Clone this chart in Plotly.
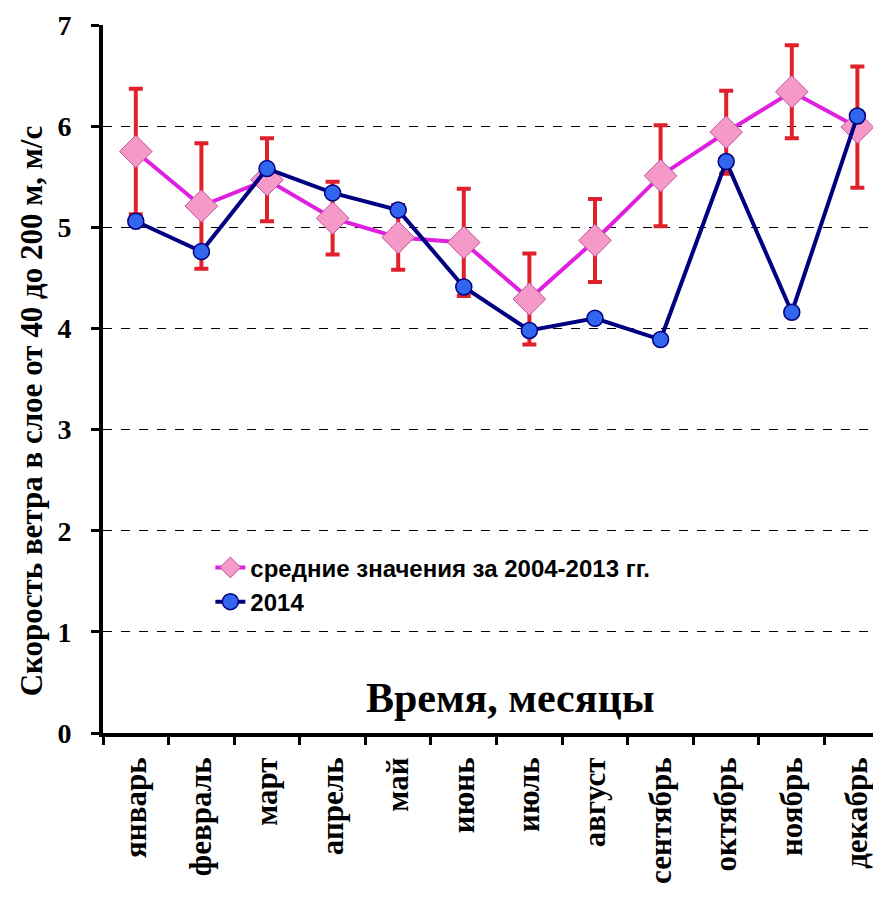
import plotly.graph_objects as go

months = ["январь", "февраль", "март", "апрель", "май", "июнь", "июль",
          "август", "сентябрь", "октябрь", "ноябрь", "декабрь"]
mean_vals = [5.75, 5.21, 5.47, 5.09, 4.90, 4.85, 4.29, 4.87, 5.51, 5.94, 6.34, 5.99]
mean_err = [0.62, 0.62, 0.41, 0.36, 0.32, 0.53, 0.45, 0.41, 0.50, 0.41, 0.46, 0.60]
vals_2014 = [5.06, 4.76, 5.58, 5.34, 5.17, 4.41, 3.98, 4.10, 3.89, 5.65, 4.16, 6.10]
y_ticks = [0, 1, 2, 3, 4, 5, 6, 7]

serif = "Liberation Serif"
sans = "Liberation Sans"

fig = go.Figure()
fig.add_trace(go.Scatter(
    x=months, y=mean_vals, mode="lines+markers",
    name="средние значения за 2004-2013 гг.",
    line=dict(color="#E020E0", width=4),
    marker=dict(symbol="diamond", size=25, color="#F59AC8",
                line=dict(color="#C050A0", width=1)),
    error_y=dict(type="data", array=mean_err, visible=True,
                 color="#E0202A", thickness=4, width=7),
))
fig.add_trace(go.Scatter(
    x=months, y=vals_2014, mode="lines+markers",
    name="2014",
    line=dict(color="#000080", width=4),
    marker=dict(symbol="circle", size=16, color="#3366EE",
                line=dict(color="#000080", width=1.5)),
))

fig.add_annotation(
    text="Время, месяцы", xref="paper", yref="paper",
    x=0.523, y=0.014, showarrow=False,
    font=dict(family=serif, size=42, color="black", weight="bold"),
)
fig.add_annotation(
    text="Скорость ветра в слое от 40 до 200 м, м/с", xref="paper", yref="paper",
    x=-0.117, y=0.455, textangle=-90, showarrow=False,
    font=dict(family=serif, size=31, color="black", weight="bold"),
)

fig.update_layout(
    width=873, height=889,
    margin=dict(l=95, r=0, t=17, b=164, autoexpand=False),
    paper_bgcolor="white", plot_bgcolor="white",
    showlegend=True,
    legend=dict(x=0.138, y=0.265, xanchor="left", yanchor="top",
                bgcolor="rgba(0,0,0,0)",
                font=dict(family=sans, size=24, color="black", weight="bold")),
    xaxis=dict(
        type="category", categoryorder="array", categoryarray=months,
        range=[-0.5, 11.36], automargin=False,
        showgrid=False, zeroline=False,
        showline=True, linecolor="black", linewidth=4,
        ticks="outside", tickson="boundaries", ticklen=8, tickwidth=3,
        tickcolor="black",
        tickangle=-90, ticklabelstandoff=8,
        tickfont=dict(family=serif, size=31, color="black", weight="bold"),
    ),
    yaxis=dict(
        range=[0, 7], tickvals=y_ticks, automargin=False,
        showgrid=True, gridcolor="black", griddash="dash", gridwidth=1,
        zeroline=False,
        showline=True, linecolor="black", linewidth=4,
        ticks="outside", ticklen=8, tickwidth=3, tickcolor="black",
        ticklabelstandoff=14,
        tickfont=dict(family=serif, size=28, color="black", weight="bold"),
    ),
)

fig.write_html("out.html")
